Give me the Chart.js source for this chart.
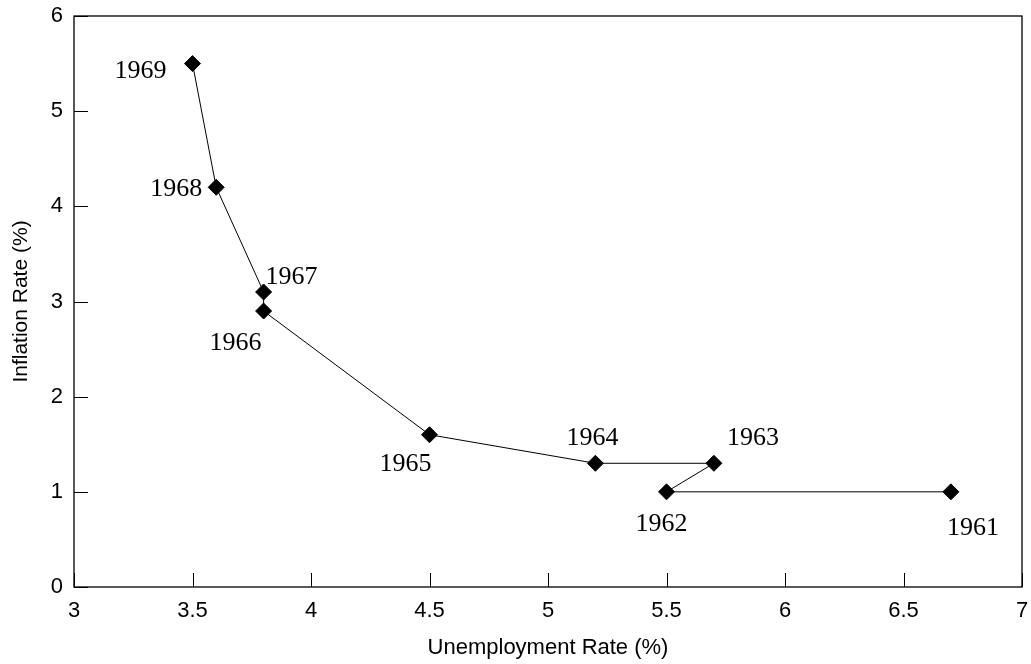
<!DOCTYPE html>
<html lang="en">
<head>
    <meta charset="UTF-8">
    <title>Inflation vs Unemployment 1961-1969</title>
    <script src="https://cdn.jsdelivr.net/npm/chart.js"></script>
    <style>
        html, body { margin: 0; padding: 0; background: #fff; }
        canvas { display: block; }
    </style>
</head>
<body>
    <canvas id="chart" width="1031" height="664"></canvas>
    <script>
        // data
        const years = ["1961", "1962", "1963", "1964", "1965", "1966", "1967", "1968", "1969"];
        const unemployment = [6.7, 5.5, 5.7, 5.2, 4.5, 3.8, 3.8, 3.6, 3.5];
        const inflation = [1.0, 1.0, 1.3, 1.3, 1.6, 2.9, 3.1, 4.2, 5.5];
        const xTicks = [3, 3.5, 4, 4.5, 5, 5.5, 6, 6.5, 7];
        const yTicks = [0, 1, 2, 3, 4, 5, 6];

        // where each year label sits relative to its point (px)
        const labelOffsets = [[22, 36], [-5, 32], [39, -25], [-3, -25], [-24, 29], [-28, 32], [28, -15], [-40, 2], [-52, 8]];

        const points = unemployment.map((u, i) => ({ x: u, y: inflation[i] }));

        const framePlugin = {
            id: "frame",
            afterDraw(chart) {
                const ctx = chart.ctx;
                const a = chart.chartArea;
                const xs = chart.scales.x, ys = chart.scales.y;
                ctx.save();
                ctx.strokeStyle = "#000";
                ctx.lineWidth = 1.3;
                ctx.strokeRect(a.left, a.top, a.right - a.left, a.bottom - a.top);
                ctx.lineWidth = 1;
                ctx.beginPath();
                xTicks.forEach(v => {
                    const px = Math.round(xs.getPixelForValue(v)) + 0.5;
                    ctx.moveTo(px, a.bottom);
                    ctx.lineTo(px, a.bottom - 14);
                });
                yTicks.forEach(v => {
                    const py = Math.round(ys.getPixelForValue(v)) + 0.5;
                    ctx.moveTo(a.left, py);
                    ctx.lineTo(a.left + 14, py);
                });
                ctx.stroke();

                ctx.fillStyle = "#000";
                ctx.font = "26px 'Liberation Serif', 'DejaVu Serif', serif";
                ctx.textAlign = "center";
                ctx.textBaseline = "middle";
                years.forEach((yr, i) => {
                    const px = xs.getPixelForValue(unemployment[i]) + labelOffsets[i][0];
                    const py = ys.getPixelForValue(inflation[i]) + labelOffsets[i][1];
                    ctx.fillText(yr, px, py);
                });
                ctx.restore();
            }
        };

        const sans = "'Liberation Sans', Arial, sans-serif";

        new Chart(document.getElementById("chart"), {
            type: "scatter",
            data: {
                datasets: [{
                    data: points,
                    showLine: true,
                    borderColor: "#000",
                    borderWidth: 1,
                    backgroundColor: "#000",
                    pointStyle: "rectRot",
                    pointRadius: 8,
                    pointHoverRadius: 8
                }]
            },
            options: {
                responsive: false,
                animation: false,
                layout: { padding: { top: 16, right: 8, left: 0, bottom: 0 } },
                plugins: {
                    legend: { display: false },
                    tooltip: { enabled: false }
                },
                scales: {
                    x: {
                        type: "linear",
                        min: 3,
                        max: 7,
                        afterFit(s) { s.height = 77; s.paddingLeft = 0; s.paddingRight = 0; },
                        afterBuildTicks(s) { s.ticks = xTicks.map(v => ({ value: v })); },
                        grid: { display: false, drawTicks: false },
                        border: { display: false },
                        ticks: {
                            color: "#000",
                            padding: 11,
                            callback: v => String(v),
                            font: { family: sans, size: 22 }
                        },
                        title: {
                            display: true,
                            text: "Unemployment Rate (%)",
                            color: "#000",
                            padding: { top: 4, bottom: 3 },
                            font: { family: sans, size: 22 }
                        }
                    },
                    y: {
                        type: "linear",
                        min: 0,
                        max: 6,
                        afterFit(s) { s.width = 74; s.paddingTop = 0; s.paddingBottom = 0; },
                        afterBuildTicks(s) { s.ticks = yTicks.map(v => ({ value: v })); },
                        grid: { display: false, drawTicks: false },
                        border: { display: false },
                        ticks: {
                            color: "#000",
                            padding: 11,
                            callback: v => String(v),
                            font: { family: sans, size: 22 }
                        },
                        title: {
                            display: true,
                            text: "Inflation Rate (%)",
                            color: "#000",
                            padding: { top: 9, bottom: 0 },
                            font: { family: sans, size: 21 }
                        }
                    }
                }
            },
            plugins: [framePlugin]
        });
    </script>
</body>
</html>
